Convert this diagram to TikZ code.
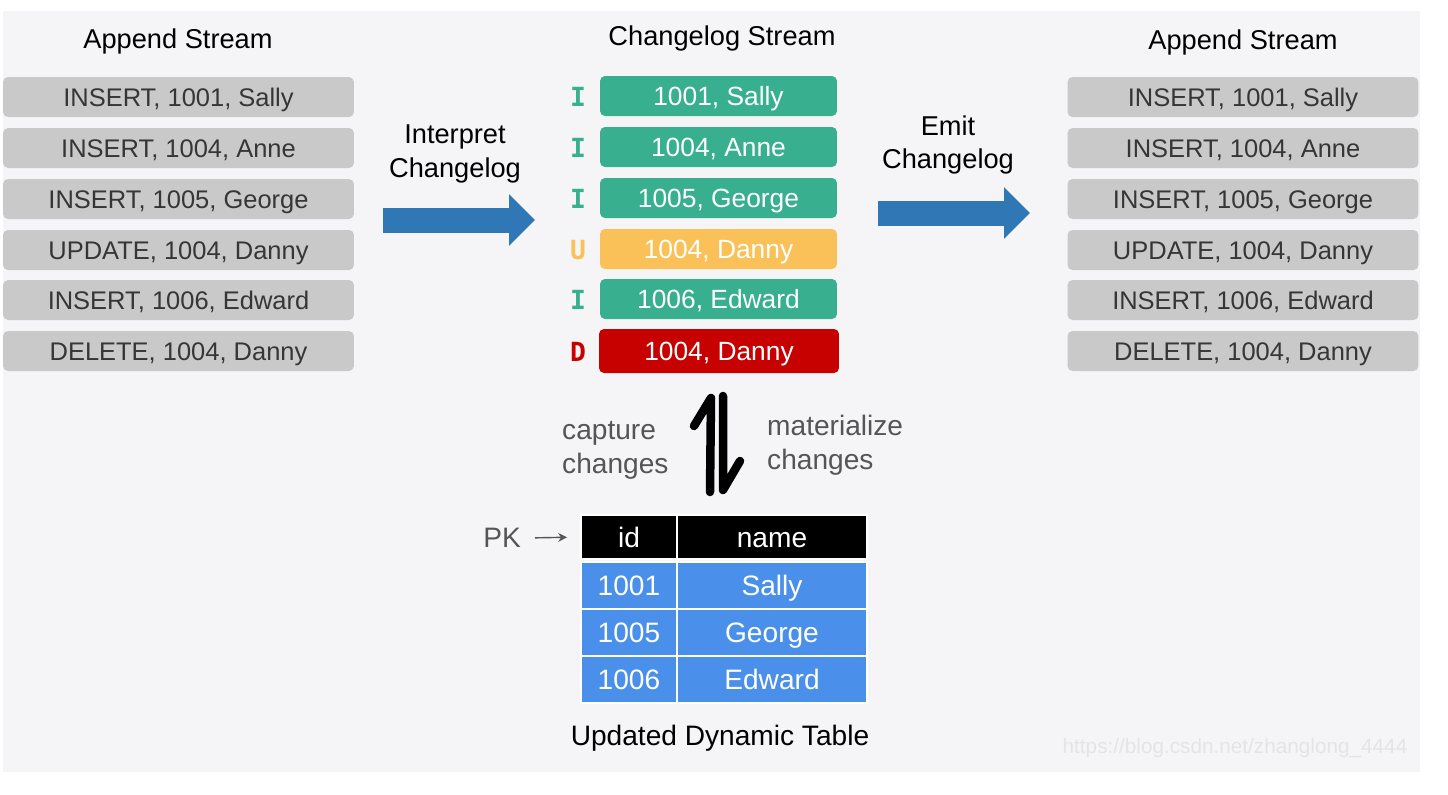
\documentclass[tikz,border=0pt]{standalone}
\usepackage{fontspec}
\setmainfont{Liberation Sans}
\setmonofont{DejaVu Sans Mono}
\usetikzlibrary{arrows.meta}

\definecolor{bgcol}{HTML}{F5F5F7}
\definecolor{recgray}{HTML}{C9C9C9}
\definecolor{rectext}{HTML}{363636}
\definecolor{insgreen}{HTML}{38AF8E}
\definecolor{updyellow}{HTML}{FBC159}
\definecolor{delred}{HTML}{C70000}
\definecolor{arrblue}{HTML}{2F78B5}
\definecolor{tblue}{HTML}{4A8FEA}
\definecolor{lblgray}{HTML}{555555}
\definecolor{wmgray}{HTML}{E4E4E6}

\begin{document}
\begin{tikzpicture}[
    x=0.02cm, y=-0.02cm,
    rec/.style={
        rectangle, rounded corners=0.1cm, inner sep=0pt,
        minimum width=7.02cm, minimum height=0.8cm,
        text height=10.4pt, text depth=0pt,
        fill=recgray, text=rectext, font=\fontsize{14.5}{17}\selectfont
    },
    chg/.style={
        rectangle, rounded corners=0.1cm, inner sep=0pt,
        minimum width=4.74cm, minimum height=0.8cm,
        text height=10.7pt, text depth=0pt,
        text=white, font=\fontsize{15}{18}\selectfont
    },
    chgI/.style={chg, fill=insgreen},
    chgU/.style={chg, fill=updyellow},
    chgD/.style={chg, fill=delred, minimum width=4.8cm, minimum height=0.88cm},
    op/.style={font=\ttfamily\bfseries\fontsize{15}{18}\selectfont,
        text height=10.9pt, text depth=0pt},
    title/.style={font=\fontsize{15.5}{19}\selectfont, text=black},
    glbl/.style={font=\fontsize{16}{19.5}\selectfont, text=lblgray},
    cell/.style={
        rectangle, inner sep=0pt, draw=white, line width=0.04cm,
        text height=11.4pt, text depth=0pt,
        text=white, font=\fontsize{16}{19}\selectfont
    },
    idcell/.style={cell, minimum width=1.92cm},
    namecell/.style={cell, minimum width=3.8cm},
    hdr/.style={fill=black, minimum height=0.88cm},
    row/.style={fill=tblue, minimum height=0.94cm},
    bigarr/.style={
        -{Triangle[length=0.52cm, width=1.0cm]},
        line width=0.5cm, draw=arrblue
    },
    harp/.style={line width=0.17cm, line cap=round, line join=round, black},
    pkarr/.style={
        -{Stealth[length=5pt, width=5pt]},
        line width=0.8pt, lblgray
    }
]
\useasboundingbox (0,0) rectangle (1448,795);
\fill[bgcol] (3,11) rectangle (1420,772);

% left append stream
\node[title] (lt) at (178,41) {Append Stream};
\node[rec] (l1) at (178.5,97)  {INSERT, 1001, Sally};
\node[rec] (l2) at (178.5,148) {INSERT, 1004, Anne};
\node[rec] (l3) at (178.5,199) {INSERT, 1005, George};
\node[rec] (l4) at (178.5,250) {UPDATE, 1004, Danny};
\node[rec] (l5) at (178.5,300) {INSERT, 1006, Edward};
\node[rec] (l6) at (178.5,351) {DELETE, 1004, Danny};

% changelog stream
\node[title] (ct) at (722,38) {Changelog Stream};
\node[chgI] (c1) at (718.5,96)  {1001, Sally};
\node[chgI] (c2) at (718.5,147) {1004, Anne};
\node[chgI] (c3) at (718.5,198) {1005, George};
\node[chgU] (c4) at (718.5,249) {1004, Danny};
\node[chgI] (c5) at (718.5,299) {1006, Edward};
\node[chgD] (c6) at (719,351)   {1004, Danny};

\node[op, text=insgreen]  (o1) at (578,97)  {I};
\node[op, text=insgreen]  (o2) at (578,148) {I};
\node[op, text=insgreen]  (o3) at (578,199) {I};
\node[op, text=updyellow] (o4) at (578,250) {U};
\node[op, text=insgreen]  (o5) at (578,300) {I};
\node[op, text=delred]    (o6) at (578,352) {D};

% right append stream
\node[title] (rt) at (1243,42) {Append Stream};
\node[rec] (r1) at (1243,97)  {INSERT, 1001, Sally};
\node[rec] (r2) at (1243,148) {INSERT, 1004, Anne};
\node[rec] (r3) at (1243,199) {INSERT, 1005, George};
\node[rec] (r4) at (1243,250) {UPDATE, 1004, Danny};
\node[rec] (r5) at (1243,300) {INSERT, 1006, Edward};
\node[rec] (r6) at (1243,351) {DELETE, 1004, Danny};

% big arrows
\node[title, align=center] (ilbl) at (455,154) {Interpret\\Changelog};
\node[title, align=center] (elbl) at (948,145) {Emit\\Changelog};
\coordinate (ia0) at (383,220);
\coordinate (ia1) at (535,220);
\coordinate (ea0) at (878,213);
\coordinate (ea1) at (1030,213);
\draw[bigarr] (ia0) -- (ia1);
\draw[bigarr] (ea0) -- (ea1);

% harpoons
\coordinate (hu0) at (710,492);
\coordinate (hu1) at (711,398);
\coordinate (hu2) at (694,426);
\coordinate (hd0) at (723,396);
\coordinate (hd1) at (723,490);
\coordinate (hd2) at (740,461);
\draw[harp] (hu0) -- (hu1) -- (hu2);
\draw[harp] (hd0) -- (hd1) -- (hd2);
\node[glbl, align=left, anchor=west] (cap) at (556,450) {capture\\changes};
\node[glbl, align=left, anchor=west] (mat) at (761,445) {materialize\\changes};

% dynamic table
\node[idcell, hdr]   (hid)   at (629,537)   {id};
\node[namecell, hdr] (hname) at (772,537)   {name};
\node[idcell, row]   (i1)    at (629,585)   {1001};
\node[namecell, row] (n1)    at (772,585)   {Sally};
\node[idcell, row]   (i2)    at (629,632)   {1005};
\node[namecell, row] (n2)    at (772,632)   {George};
\node[idcell, row]   (i3)    at (629,679)   {1006};
\node[namecell, row] (n3)    at (772,679)   {Edward};

\node[glbl] (pk) at (502,538) {PK};
\draw[pkarr, shorten <=0.16cm, shorten >=0.26cm] (pk.east) -- (hid.west);

\node[title, font=\fontsize{16}{19}\selectfont] (ttl) at (720,738) {Updated Dynamic Table};
\node[font=\fontsize{11.8}{14}\selectfont, text=wmgray] (wm) at (1235,748) {https://blog.csdn.net/zhanglong\_4444};

\end{tikzpicture}
\end{document}
